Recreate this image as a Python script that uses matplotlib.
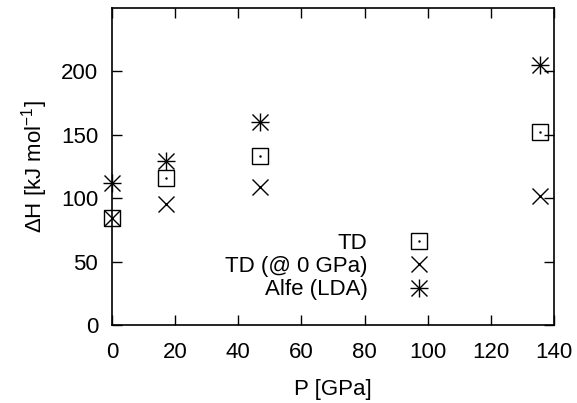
import numpy as np
import matplotlib.pyplot as plt
from matplotlib.legend_handler import HandlerTuple

plt.rcParams['font.family'] = ['Liberation Sans', 'DejaVu Sans']
plt.rcParams['mathtext.fontset'] = 'custom'
plt.rcParams['mathtext.rm'] = 'Liberation Sans'
plt.rcParams['mathtext.it'] = 'Liberation Sans:italic'
plt.rcParams['font.size'] = 16

# pressure points
p_td = [0, 17, 47, 135.5]
h_td = [84.5, 116, 133, 152]

p_td0 = [0, 17, 47, 135.5]
h_td0 = [84.5, 95, 109, 102]

p_alfe = [0, 17, 47, 135.5]
h_alfe = [112, 129, 160, 204.5]

fig = plt.figure(figsize=(5.77, 4.03), dpi=100)
ax = fig.add_axes([112/577, (403-325)/403, (554-112)/577, (325-7.7)/403])

ms = 12
lw = 1.0
sq = ax.plot(p_td, h_td, ls='none', marker='s', ms=ms, mfc='none', mec='k', mew=lw, clip_on=False)[0]
sqd = ax.plot(p_td, h_td, ls='none', marker='.', ms=1.5, color='k', clip_on=False)[0]
cr = ax.plot(p_td0, h_td0, ls='none', marker='x', ms=ms, color='k', mew=lw, clip_on=False)[0]
st1 = ax.plot(p_alfe, h_alfe, ls='none', marker='+', ms=ms*1.1, color='k', mew=lw, clip_on=False)[0]
st2 = ax.plot(p_alfe, h_alfe, ls='none', marker='x', ms=ms, color='k', mew=lw, clip_on=False)[0]

ax.set_xlim(0, 140)
ax.set_ylim(0, 250)
ax.set_xticks(np.arange(0, 141, 20))
ax.set_yticks(np.arange(0, 201, 50))
ax.tick_params(direction='in', length=7, width=1, top=True, right=True)
ax.tick_params(axis='x', pad=12)
ax.tick_params(axis='y', pad=10)
for s in ax.spines.values():
    s.set_linewidth(1.2)

ax.set_xlabel('P [GPa]', labelpad=12)
ax.set_ylabel(r'ΔH [kJ mol$^{-1}$]', labelpad=8)

leg = fig.legend([(sq, sqd), cr, (st1, st2)], ['TD', 'TD (@ 0 GPa)', 'Alfe (LDA)'],
                 handler_map={tuple: HandlerTuple(ndivide=1, pad=0)},
                 loc='upper right', bbox_to_anchor=(441/577, 1 - 233/403),
                 markerfirst=False, frameon=False, borderpad=0, borderaxespad=0,
                 handlelength=2, handletextpad=1.3, labelspacing=0.1)

fig.savefig('out.png', dpi=100)
